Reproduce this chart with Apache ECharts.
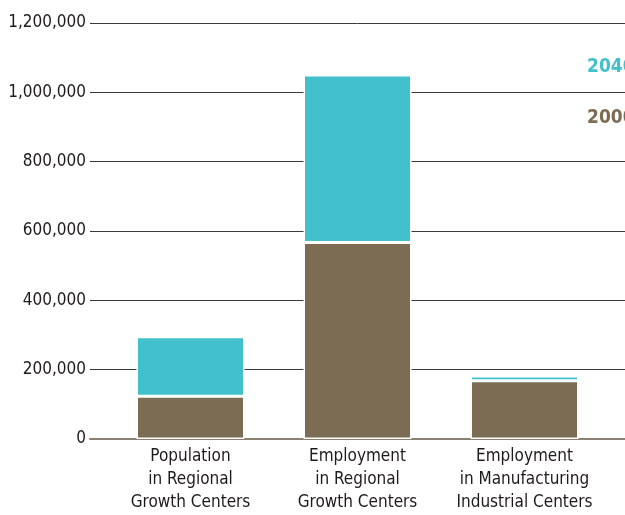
<!DOCTYPE html>
<html>
<head>
<meta charset="utf-8">
<script src="https://cdn.jsdelivr.net/npm/echarts@6/dist/echarts.min.js"></script>
<style>
    html, body { margin: 0; padding: 0; background: #fff; }
    #chart-container { width: 625px; height: 515px; }
</style>
</head>
<body>
<div id="chart-container"></div>
<script>
// values
var categories = [
    'Population\nin Regional\nGrowth Centers',
    'Employment\nin Regional\nGrowth Centers',
    'Employment\nin Manufacturing\nIndustrial Centers'
];
var values2000 = [123000, 567000, 168000];
var values2040 = [295000, 1050000, 182000];
var yTicks = [0, 200000, 400000, 600000, 800000, 1000000, 1200000];

var TEAL = '#42c1cc';
var BROWN = '#7d6c54';
var FONT = '"DejaVu Sans Condensed", "Liberation Sans", sans-serif';

// 2040 is drawn as the part stacked on top of 2000
var growth = values2040.map(function (v, i) { return v - values2000[i]; });

var chartDom = document.getElementById('chart-container');
var myChart = echarts.init(chartDom, null, {renderer: 'canvas'});

var option = {
    animation: false,
    textStyle: {fontFamily: FONT},
    legend: {
        orient: 'vertical',
        left: 582,
        top: 58,
        padding: 0,
        icon: 'none',
        itemWidth: 0,
        itemGap: 32,
        selectedMode: false,
        textStyle: {fontSize: 19, fontWeight: 'bold', fontFamily: FONT, padding: 0},
        data: [
            {name: '2040', textStyle: {color: TEAL}},
            {name: '2000', textStyle: {color: BROWN}}
        ]
    },
    grid: [
        // wide grid: y labels and grid lines
        {left: 90, right: 0, top: 23, bottom: 76},
        // narrower grid: the bars and category labels
        {left: 107, right: 17, top: 23, bottom: 76}
    ],
    xAxis: [
        {
            gridIndex: 0,
            type: 'category',
            data: categories,
            axisLabel: {show: false},
            axisTick: {show: false},
            axisLine: {lineStyle: {color: '#8b806f', width: 2}}
        },
        {
            gridIndex: 1,
            type: 'category',
            data: categories,
            axisTick: {show: false},
            axisLine: {show: false},
            axisLabel: {
                margin: 6,
                fontSize: 17,
                lineHeight: 23,
                color: '#1f1b1c',
                fontFamily: FONT,
                interval: 0
            }
        }
    ],
    yAxis: [
        {
            gridIndex: 0,
            type: 'value',
            min: yTicks[0],
            max: yTicks[yTicks.length - 1],
            interval: yTicks[1] - yTicks[0],
            axisLine: {show: false},
            axisTick: {show: false},
            axisLabel: {
                margin: 4,
                fontSize: 17,
                color: '#1f1b1c',
                fontFamily: FONT,
                formatter: function (value) {
                    return value.toLocaleString('en-US');
                }
            },
            splitLine: {lineStyle: {color: '#3a3a3a', width: 1}}
        },
        {
            gridIndex: 1,
            type: 'value',
            min: yTicks[0],
            max: yTicks[yTicks.length - 1],
            show: false,
            splitLine: {show: false}
        }
    ],
    series: [
        {
            name: '2000',
            type: 'bar',
            xAxisIndex: 1,
            yAxisIndex: 1,
            stack: 'total',
            barWidth: 108,
            data: values2000,
            itemStyle: {color: BROWN, borderColor: '#fff', borderWidth: 1.5}
        },
        {
            name: '2040',
            type: 'bar',
            xAxisIndex: 1,
            yAxisIndex: 1,
            stack: 'total',
            barWidth: 108,
            data: growth,
            itemStyle: {color: TEAL, borderColor: '#fff', borderWidth: 1.5}
        }
    ]
};

option && myChart.setOption(option);
</script>
</body>
</html>
